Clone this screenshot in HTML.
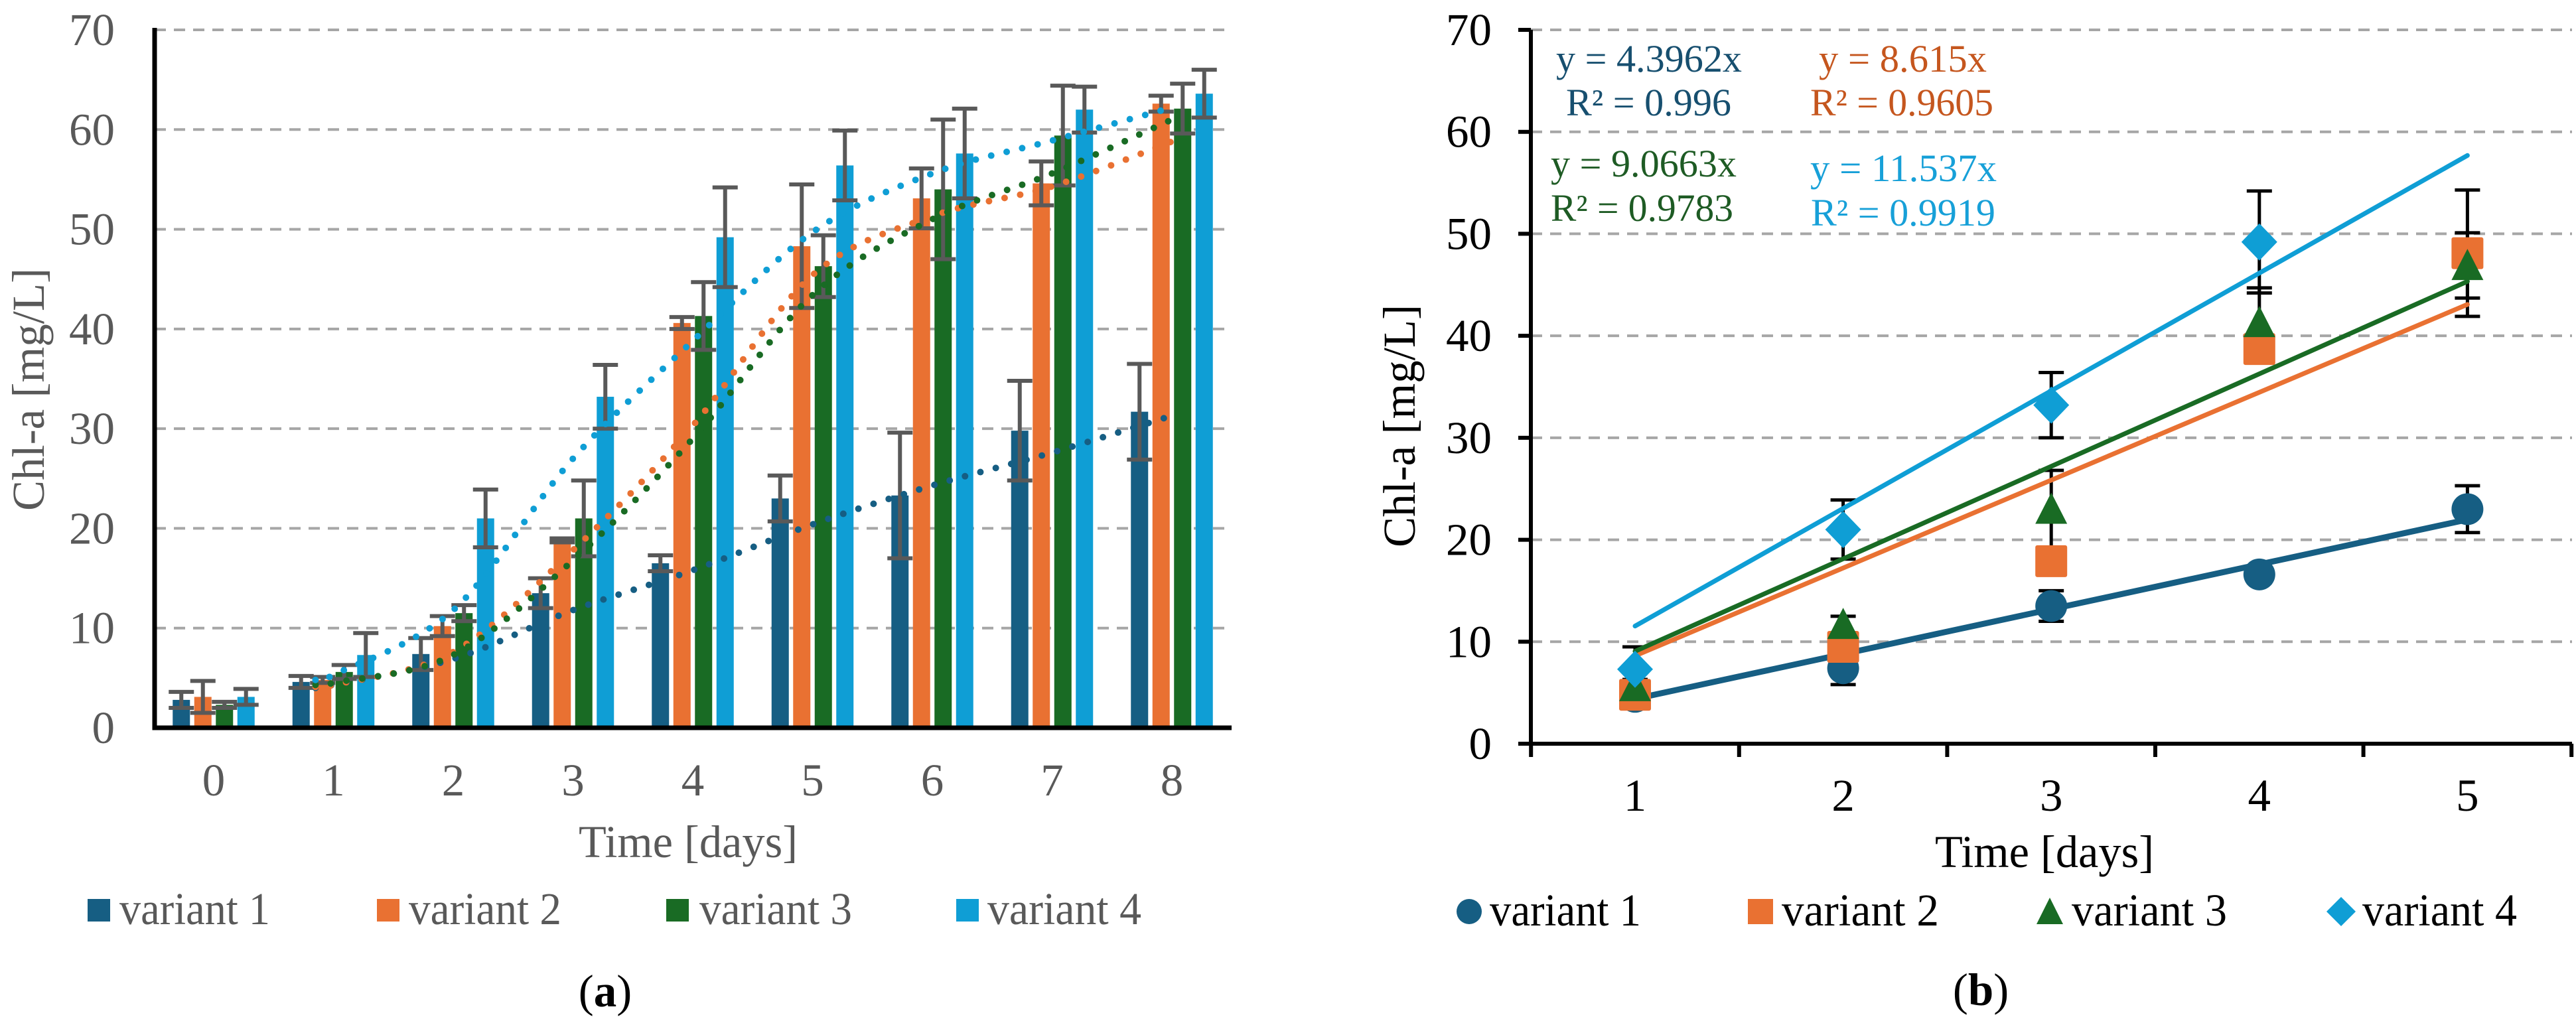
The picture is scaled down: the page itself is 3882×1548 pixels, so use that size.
<!DOCTYPE html>
<html><head><meta charset="utf-8"><style>
html,body{margin:0;padding:0;background:#fff;}
svg{display:block;}
text{font-family:"Liberation Serif","DejaVu Serif",serif;}
</style></head><body>
<svg id="fig" width="3882" height="1548" viewBox="0 0 3882 1548" xmlns="http://www.w3.org/2000/svg">
<rect width="3882" height="1548" fill="#fff"/>
<g id="chartA"></g>
<g id="chartB"></g>

<text transform="translate(66,587) rotate(-90)" text-anchor="middle" font-size="69" fill="#595959">Chl-a [mg/L]</text>
<text x="1037" y="1292" text-anchor="middle" font-size="69" fill="#595959" textLength="330" lengthAdjust="spacingAndGlyphs">Time [days]</text>
<g>
<rect x="132" y="1355" width="34" height="34" fill="#165e83"/>
<text x="180" y="1393" font-size="69" fill="#595959" textLength="227" lengthAdjust="spacingAndGlyphs">variant 1</text>
<rect x="568" y="1355" width="34" height="34" fill="#e97132"/>
<text x="616" y="1393" font-size="69" fill="#595959" textLength="230" lengthAdjust="spacingAndGlyphs">variant 2</text>
<rect x="1004" y="1355" width="34" height="34" fill="#196b24"/>
<text x="1054" y="1393" font-size="69" fill="#595959" textLength="230" lengthAdjust="spacingAndGlyphs">variant 3</text>
<rect x="1441" y="1355" width="34" height="34" fill="#0f9ed5"/>
<text x="1488" y="1393" font-size="69" fill="#595959" textLength="232" lengthAdjust="spacingAndGlyphs">variant 4</text>
</g>
<text x="912" y="1517" text-anchor="middle" font-size="69" fill="#000">(<tspan font-weight="bold">a</tspan>)</text>

<text transform="translate(2132,642) rotate(-90)" text-anchor="middle" font-size="69" fill="#000">Chl-a [mg/L]</text>
<text x="3081" y="1307" text-anchor="middle" font-size="69" fill="#000" textLength="330" lengthAdjust="spacingAndGlyphs">Time [days]</text>
<g>
<circle cx="2214" cy="1374" r="19" fill="#165e83"/>
<text x="2245" y="1395" font-size="69" fill="#000" textLength="228" lengthAdjust="spacingAndGlyphs">variant 1</text>
<rect x="2634" y="1355" width="38" height="38" fill="#e97132"/>
<text x="2685" y="1395" font-size="69" fill="#000" textLength="237" lengthAdjust="spacingAndGlyphs">variant 2</text>
<polygon points="3089,1353 3109,1393 3069,1393" fill="#196b24"/>
<text x="3122" y="1395" font-size="69" fill="#000" textLength="234" lengthAdjust="spacingAndGlyphs">variant 3</text>
<polygon points="3528,1352 3550,1374 3528,1396 3506,1374" fill="#0f9ed5"/>
<text x="3560" y="1395" font-size="69" fill="#000" textLength="233" lengthAdjust="spacingAndGlyphs">variant 4</text>
</g>
<text x="2985" y="1515" text-anchor="middle" font-size="69" fill="#000">(<tspan font-weight="bold">b</tspan>)</text>

<g font-size="58">
<text x="2345" y="108" fill="#174f6f" textLength="280" lengthAdjust="spacingAndGlyphs">y = 4.3962x</text>
<text x="2360" y="174" fill="#174f6f" textLength="249" lengthAdjust="spacingAndGlyphs">R² = 0.996</text>
<text x="2741" y="108" fill="#c5561e" textLength="253" lengthAdjust="spacingAndGlyphs">y = 8.615x</text>
<text x="2728" y="174" fill="#c5561e" textLength="276" lengthAdjust="spacingAndGlyphs">R² = 0.9605</text>
<text x="2337" y="266" fill="#1e5b24" textLength="280" lengthAdjust="spacingAndGlyphs">y = 9.0663x</text>
<text x="2337" y="333" fill="#1e5b24" textLength="275" lengthAdjust="spacingAndGlyphs">R² = 0.9783</text>
<text x="2728" y="273" fill="#17a0d8" textLength="281" lengthAdjust="spacingAndGlyphs">y = 11.537x</text>
<text x="2729" y="340" fill="#17a0d8" textLength="278" lengthAdjust="spacingAndGlyphs">R² = 0.9919</text>
</g>
</svg>
<script>
const daysA = [0,1,2,3,4,5,6,7,8];
const v1 = [2.8,4.6,7.4,13.5,16.5,23,23.3,29.8,31.7];
const v2 = [3.1,4.8,10.2,18.8,40.6,48.3,53.1,54.6,62.6];
const v3 = [2.3,5.6,11.5,21,41.3,46.3,54,59.4,62.1];
const v4 = [3.1,7.3,21,33.2,49.2,56.4,57.6,62,63.6];
const e1 = [0.8,0.6,1.6,1.5,0.8,2.3,6.3,5,4.8];
const e2 = [1.6,0.3,1,0.2,0.6,6.2,3,2.2,0.8];
const e3 = [0.3,0.7,0.8,3.8,3.4,3.1,7,5,2.5];
const e4 = [0.8,2.2,2.9,3.2,5,3.5,4.5,2.3,2.4];
const trendX = [0.85,1,2,3,4,5,6,7,8];
const t1 = [4.0,4.3,6.9,11.8,15.8,20.4,24.3,27.6,31.3];
const t2 = [4.1,4.3,7.6,17.8,30.3,45.4,51.3,54.3,58.8];
const t3 = [4.3,4.5,7.3,16.8,29,43.4,51,55.6,61];
const t4 = [4.8,5.3,11.8,27,38.8,49.7,55.6,58.9,62.2];
const yTicks = [0,10,20,30,40,50,60,70];

const daysB = [1,2,3,4,5];
const b1 = [4.6,7.4,13.5,16.6,23];
const b2 = [4.8,9.5,17.9,38.7,48.1];
const b3 = [5.6,11.7,23,41.3,46.9];
const b4 = [7.3,21,33.2,49.2,null];
const be1 = [0.6,1.6,1.5,0.8,2.3];
const be2 = [0.3,1,0.2,0.6,6.2];
const be3 = [0.7,0.8,3.8,3.4,3.2];
const be4 = [2.2,2.9,3.2,5,0];
const slopes = [4.3962,8.615,9.0663,11.537];

const colors = ['#165e83','#e97132','#196b24','#0f9ed5'];
const NS = 'http://www.w3.org/2000/svg';
function mk(parent, tag, attrs){const e=document.createElementNS(NS,tag);for(const k in attrs)e.setAttribute(k,attrs[k]);parent.appendChild(e);return e;}

const A = document.getElementById('chartA');
const axL = 233, axR = 1856, ax0 = 1097, axTop = 45;
const xA = d => 322 + d*180.5;
const yA = v => ax0 - v*(ax0-axTop)/70;
yTicks.forEach(t=>{
  if(t>0){
    const g = mk(A,'line',{x1:axL,x2:axR,y1:yA(t),y2:yA(t),stroke:'#a6a6a6','stroke-width':4,'stroke-dasharray':'17 12'});
    
    
  }
  const lb = mk(A,'text',{x:173,y:yA(t)+23,'text-anchor':'end','font-size':69,fill:'#595959'});
  lb.textContent = t;
  
  
});
const seriesA=[v1,v2,v3,v4], errA=[e1,e2,e3,e4];
seriesA.forEach((s,si)=>{
  s.forEach((v,i)=>{
    const cx = xA(daysA[i]) + (si-1.5)*32.5;
    const r = mk(A,'rect',{x:cx-13,y:yA(v),width:26,height:ax0-yA(v),fill:colors[si]});
    
    
  });
});
seriesA.forEach((s,si)=>{
  s.forEach((v,i)=>{
    const cx = xA(daysA[i]) + (si-1.5)*32.5;
    const e = errA[si][i];
    const g = mk(A,'path',{d:`M${cx},${yA(v-e)}V${yA(v+e)}M${cx-19},${yA(v+e)}H${cx+19}M${cx-19},${yA(v-e)}H${cx+19}`,stroke:'#595959','stroke-width':6,fill:'none'});
    
    
  });
});
function smoothPath(xs, ys, fx, fy){
  const P = xs.map((x,i)=>[fx(x),fy(ys[i])]);
  let d = `M${P[0][0]},${P[0][1]}`;
  for(let i=0;i<P.length-1;i++){
    const p0=P[Math.max(0,i-1)],p1=P[i],p2=P[i+1],p3=P[Math.min(P.length-1,i+2)];
    const c1=[p1[0]+(p2[0]-p0[0])/6,p1[1]+(p2[1]-p0[1])/6];
    const c2=[p2[0]-(p3[0]-p1[0])/6,p2[1]-(p3[1]-p1[1])/6];
    d+=`C${c1[0]},${c1[1]} ${c2[0]},${c2[1]} ${p2[0]},${p2[1]}`;
  }
  return d;
}
[t1,t2,t3,t4].forEach((t,si)=>{
  const p = mk(A,'path',{d:smoothPath(trendX,t,xA,yA),stroke:colors[si],'stroke-width':10,fill:'none','stroke-linecap':'round','stroke-dasharray':'0 24'});
  
  
});
const axA = mk(A,'path',{d:`M${axL},${axTop-3}V${ax0}H${axR}`,stroke:'#000','stroke-width':7,fill:'none'});


daysA.forEach(d=>{
  const t = mk(A,'text',{x:xA(d),y:1199,'text-anchor':'middle','font-size':69,fill:'#595959'});
  t.textContent = d;
  
  
});

const B = document.getElementById('chartB');
const bL = 2307, bR = 3876, b0 = 1121, bTop = 45;
const xB = d => 2464 + (d-1)*313.6;
const yB = v => b0 - v*(b0-bTop)/70;
yTicks.forEach(t=>{
  if(t>0){
    const g = mk(B,'line',{x1:bL,x2:bR,y1:yB(t),y2:yB(t),stroke:'#a6a6a6','stroke-width':4,'stroke-dasharray':'17 12'});
    
    
  }
  const tk = mk(B,'line',{x1:bL-19,x2:bL,y1:yB(t),y2:yB(t),stroke:'#000','stroke-width':6});
  
  
  const lb = mk(B,'text',{x:2248,y:yB(t)+23,'text-anchor':'end','font-size':69,fill:'#000'});
  lb.textContent = t;
  
  
});
for(let k=0;k<=daysB.length;k++){
  const x = xB(daysB[0]-0.5+k);
  const tk = mk(B,'line',{x1:x,x2:x,y1:b0,y2:b0+20,stroke:'#000','stroke-width':6});
  
  
}
const axB = mk(B,'path',{d:`M${bL},${bTop}V${b0}H${bR}`,stroke:'#000','stroke-width':6,fill:'none'});


daysB.forEach(d=>{
  const t = mk(B,'text',{x:xB(d),y:1222,'text-anchor':'middle','font-size':69,fill:'#000'});
  t.textContent = d;
  
  
});
const seriesB=[b1,b2,b3,b4], errB=[be1,be2,be3,be4];
seriesB.forEach((s,si)=>{
  s.forEach((v,i)=>{
    if(v===null) return;
    const cx = xB(daysB[i]); const e = errB[si][i];
    const g = mk(B,'path',{d:`M${cx},${yB(v-e)}V${yB(v+e)}M${cx-19},${yB(v+e)}H${cx+19}M${cx-19},${yB(v-e)}H${cx+19}`,stroke:'#000','stroke-width':5,fill:'none'});
    
    
  });
});
slopes.forEach((k,si)=>{
  const x1=daysB[0], x2=daysB[daysB.length-1];
  const l = mk(B,'line',{x1:xB(x1),y1:yB(k*x1),x2:xB(x2),y2:yB(k*x2),stroke:colors[si],'stroke-width':si===0?9:7,'stroke-linecap':'round'});
  
  
});
seriesB.forEach((s,si)=>{
  s.forEach((v,i)=>{
    if(v===null) return;
    const cx = xB(daysB[i]), cy = yB(v);
    let m;
    if(si===0) m = mk(B,'circle',{cx:cx,cy:cy,r:24,fill:colors[0]});
    else if(si===1) m = mk(B,'rect',{x:cx-24,y:cy-24,width:48,height:48,rx:3,fill:colors[1]});
    else if(si===2) m = mk(B,'polygon',{points:`${cx},${cy-25} ${cx+24},${cy+22} ${cx-24},${cy+22}`,fill:colors[2],'stroke-linejoin':'round'});
    else m = mk(B,'polygon',{points:`${cx},${cy-28} ${cx+27},${cy} ${cx},${cy+28} ${cx-27},${cy}`,fill:colors[3]});
    
    
  });
});
</script>
</body></html>
